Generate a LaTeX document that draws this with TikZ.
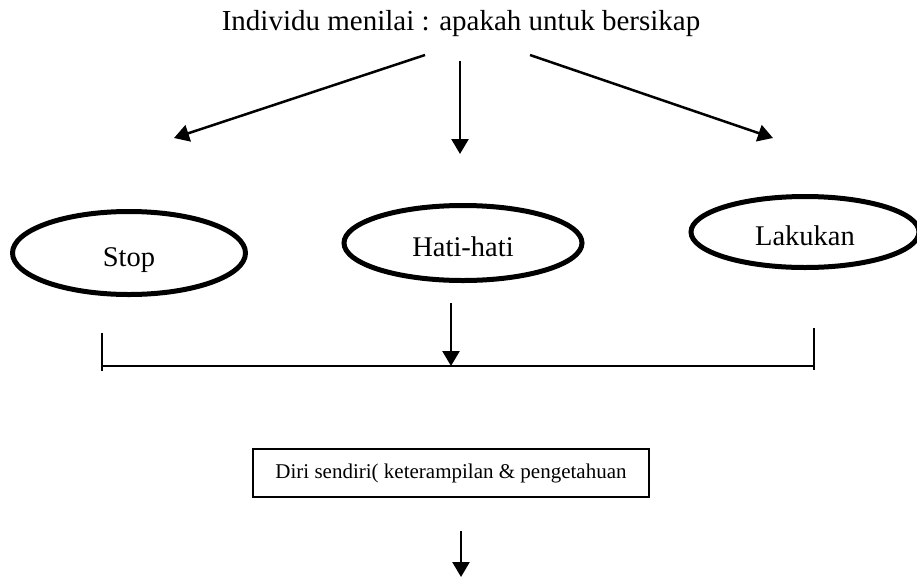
\documentclass[tikz,border=0pt]{standalone}
\usepackage{fontspec}
\setmainfont{Liberation Serif}
\usetikzlibrary{shapes.geometric,arrows.meta}
\begin{document}
\begin{tikzpicture}[x=1pt,y=-1pt,
  arr/.style={line width=2.5pt,-{Triangle[length=15pt,width=17pt]}},
  choice/.style={ellipse,draw,line width=5pt,inner sep=0pt,text height=27pt,text depth=0pt,
    font=\fontsize{28.5}{32}\selectfont},
  plain/.style={line width=2pt},
  infobox/.style={draw,line width=1.5pt,inner sep=0pt,font=\fontsize{21}{25}\selectfont}]
\useasboundingbox (0,0) rectangle (917,576);
% heading
\node[font=\fontsize{29}{34}\selectfont] (title) at (461,24) {Individu menilai : apakah untuk bersikap};
% free ends of the three branch arrows
\coordinate (lstart) at (425,55);
\coordinate (lend) at (174,138);
\coordinate (mstart) at (460,61);
\coordinate (mend) at (460,154);
\coordinate (rstart) at (530,55);
\coordinate (rend) at (773,138);
\draw[arr] (lstart) -- (lend);
\draw[arr] (mstart) -- (mend);
\draw[arr] (rstart) -- (rend);
% the three options
\node[choice,minimum width=233pt,minimum height=83pt] (stop) at (129,253) {Stop};
\node[choice,minimum width=238pt,minimum height=75pt] (hati) at (463,243) {Hati-hati};
\node[choice,minimum width=228pt,minimum height=71pt] (lakukan) at (805,232) {Lakukan};
% collecting bar
\coordinate (barL) at (102,366);
\coordinate (barR) at (814,366);
\coordinate (tickL) at (102,333);
\coordinate (tickR) at (814,328);
\coordinate (downS) at (451,303);
\coordinate (downE) at (451,366);
\draw[plain] (barL) -- (barR);
\draw[line width=2pt] (tickL) -- ([yshift=-5pt]barL);
\draw[line width=2pt] (tickR) -- ([yshift=-4pt]barR);
\draw[arr] (downS) -- (downE);
% result box
\node[infobox,minimum width=396pt,minimum height=48pt] (diri) at (451,473) {Diri sendiri( keterampilan \& pengetahuan};
\coordinate (lastS) at (461,531);
\coordinate (lastE) at (461,577);
\draw[arr] (lastS) -- (lastE);
\end{tikzpicture}
\end{document}
